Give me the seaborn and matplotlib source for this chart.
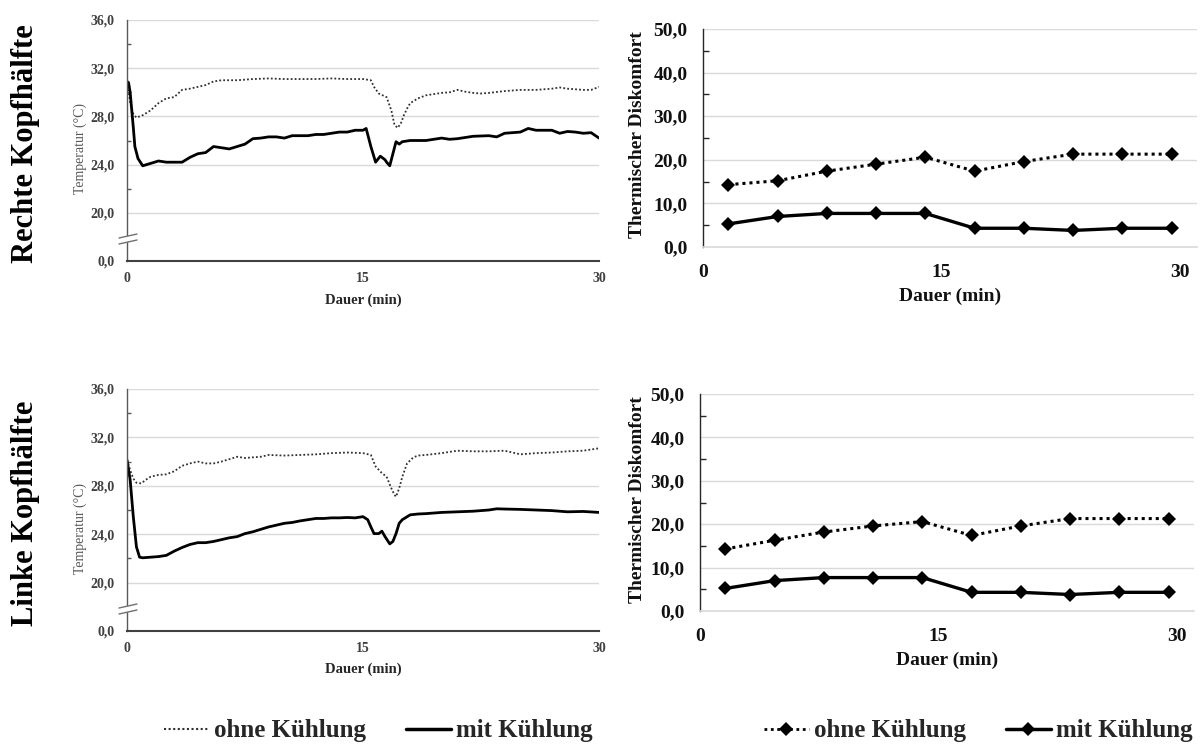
import matplotlib
matplotlib.use("Agg")
import matplotlib.pyplot as plt
from matplotlib.lines import Line2D
from matplotlib.patches import Polygon
import seaborn as sns

# ---------------- data ----------------
# Temperature time series, right half of the head (minutes, °C)
t_r_mit = [0, 0.1, 0.2, 0.4, 0.5, 0.7, 1.0, 1.5, 2.0, 2.5, 3.0, 3.5, 4.0, 4.5, 5.0, 5.5,
           6.0, 6.5, 7.0, 7.5, 8.0, 8.5, 9.0, 9.5, 10.0, 10.5, 11.0, 11.5, 12.0, 12.5,
           13.0, 13.5, 14.0, 14.5, 15.0, 15.2, 15.5, 15.8, 16.1, 16.4, 16.5, 16.7, 16.9,
           17.1, 17.3, 17.5, 18.0, 19.0, 20.0, 20.5, 21.0, 22.0, 23.0, 23.5, 24.0, 25.0,
           25.5, 26.0, 27.0, 27.5, 28.0, 28.5, 29.0, 29.5, 30.0]
temp_r_mit = [30.9, 30.8, 30.0, 27.1, 25.5, 24.5, 23.9, 24.1, 24.3, 24.2, 24.2, 24.2, 24.6,
              24.9, 25.0, 25.5, 25.4, 25.3, 25.5, 25.7, 26.15, 26.2, 26.3, 26.3, 26.2, 26.4,
              26.4, 26.4, 26.5, 26.5, 26.6, 26.7, 26.7, 26.85, 26.85, 27.0, 25.5, 24.2, 24.7,
              24.4, 24.2, 23.9, 24.9, 25.9, 25.7, 25.9, 26.0, 26.0, 26.2, 26.1, 26.15, 26.35,
              26.4, 26.3, 26.6, 26.7, 27.0, 26.85, 26.85, 26.6, 26.75, 26.7, 26.6, 26.65, 26.2]

t_r_ohne = [0, 0.2, 0.4, 0.6, 1.0, 1.5, 2.0, 2.5, 3.0, 3.5, 4.0, 4.5, 5.0, 5.5, 6.0, 7.0,
            8.0, 9.0, 10.0, 11.0, 12.0, 13.0, 14.0, 15.0, 15.5, 15.7, 16.0, 16.5, 16.8,
            17.0, 17.2, 17.4, 17.6, 17.8, 18.0, 18.5, 19.0, 19.5, 20.0, 20.5, 21.0, 21.5,
            22.0, 22.5, 23.0, 24.0, 25.0, 26.0, 27.0, 27.5, 28.0, 29.0, 29.5, 30.0]
temp_r_ohne = [30.9, 29.2, 28.2, 27.9, 28.1, 28.5, 29.1, 29.5, 29.6, 30.2, 30.3, 30.45, 30.6,
               30.9, 31.0, 31.0, 31.1, 31.15, 31.1, 31.1, 31.1, 31.15, 31.1, 31.1, 31.0,
               30.45, 29.9, 29.6, 28.5, 27.3, 27.05, 27.4, 28.1, 28.65, 29.1, 29.5, 29.75,
               29.85, 29.95, 30.0, 30.2, 30.05, 29.95, 29.9, 29.95, 30.1, 30.2, 30.2, 30.3,
               30.4, 30.3, 30.2, 30.2, 30.45]

# Temperature time series, left half of the head
t_l_mit = [0, 0.2, 0.4, 0.6, 0.8, 1.0, 1.5, 2.0, 2.5, 3.0, 3.5, 4.0, 4.5, 5.0, 5.5, 6.0,
           6.5, 7.0, 7.5, 8.0, 8.5, 9.0, 9.5, 10.0, 10.5, 11.0, 11.5, 12.0, 12.5, 13.0,
           13.5, 14.0, 14.5, 15.0, 15.3, 15.5, 15.7, 16.0, 16.2, 16.4, 16.6, 16.7, 16.9,
           17.1, 17.3, 17.5, 18.0, 18.5, 19.0, 20.0, 21.0, 22.0, 23.0, 23.5, 24.0, 25.0,
           26.0, 27.0, 28.0, 29.0, 30.0]
temp_l_mit = [30.14, 28.5, 25.45, 22.95, 22.1, 22.05, 22.1, 22.15, 22.25, 22.6, 22.9, 23.15,
              23.3, 23.3, 23.4, 23.55, 23.7, 23.8, 24.05, 24.2, 24.4, 24.6, 24.75, 24.9,
              24.97, 25.1, 25.2, 25.3, 25.3, 25.35, 25.35, 25.38, 25.35, 25.45, 25.2, 24.6,
              24.05, 24.05, 24.25, 23.8, 23.4, 23.2, 23.4, 24.05, 24.9, 25.2, 25.6, 25.67,
              25.7, 25.8, 25.85, 25.9, 26.0, 26.1, 26.08, 26.05, 26.0, 25.95, 25.85, 25.88,
              25.8]

t_l_ohne = [0, 0.2, 0.4, 0.6, 0.9, 1.2, 1.5, 2.0, 2.5, 3.0, 3.5, 4.0, 4.5, 5.0, 5.5, 6.0,
            6.5, 7.0, 7.5, 8.0, 8.5, 9.0, 10.0, 11.0, 12.0, 13.0, 14.0, 15.0, 15.5, 15.8,
            16.2, 16.5, 16.8, 17.0, 17.1, 17.3, 17.5, 17.8, 18.2, 18.5, 19.0, 20.0, 21.0,
            22.0, 23.0, 24.0, 25.0, 26.0, 27.0, 28.0, 29.0, 30.0]
temp_l_ohne = [30.14, 29.3, 28.6, 28.25, 28.2, 28.5, 28.75, 28.9, 28.95, 29.2, 29.65, 29.85,
               30.0, 29.85, 29.85, 30.0, 30.2, 30.4, 30.3, 30.35, 30.4, 30.55, 30.5, 30.55,
               30.6, 30.7, 30.75, 30.7, 30.55, 29.6, 29.05, 28.75, 27.8, 27.25, 27.1, 27.8,
               28.75, 29.85, 30.35, 30.5, 30.55, 30.7, 30.9, 30.85, 30.85, 30.9, 30.6, 30.7,
               30.75, 30.85, 30.9, 31.1]

# Thermal discomfort ratings
comfort_time = [1.6, 4.7, 7.8, 10.9, 14.0, 17.1, 20.2, 23.3, 26.4, 29.5]
disc_r_ohne = [14.3, 15.2, 17.4, 19.0, 20.6, 17.4, 19.6, 21.3, 21.3, 21.3]
disc_r_mit = [5.3, 7.0, 7.7, 7.7, 7.7, 4.3, 4.3, 3.8, 4.3, 4.3]
disc_l_ohne = [14.3, 16.3, 18.2, 19.6, 20.6, 17.4, 19.6, 21.3, 21.3, 21.3]
disc_l_mit = [5.2, 7.0, 7.7, 7.7, 7.7, 4.3, 4.3, 3.8, 4.3, 4.3]

temp_ticks = [20, 24, 28, 32, 36]
temp_zero_label = "0,0"
disc_ticks = [0, 10, 20, 30, 40, 50]
time_ticks = [0, 15, 30]

row_labels = ["Rechte Kopfhälfte", "Linke Kopfhälfte"]
series_labels = ["ohne Kühlung", "mit Kühlung"]

# ---------------- style ----------------
sns.set_theme(style="white")
plt.rcParams["font.family"] = ["Liberation Serif", "DejaVu Serif"]
plt.rcParams["axes.unicode_minus"] = False

W, H = 1200, 746
fig = plt.figure(figsize=(W / 100, H / 100), dpi=100)
fig.patch.set_facecolor("white")


def rect(l, t, r, b):
    return [l / W, 1 - b / H, (r - l) / W, (b - t) / H]


def fpt(x, y):
    return (x / W, 1 - y / H)


def comma(v):
    return f"{v:.1f}".replace(".", ",")


GRID = "#d9d9d9"
DARK = "#404040"
BASE = 16  # bottom of the broken temperature axis, shown as 0,0


def temp_axes(box, t_mit, v_mit, t_ohne, v_ohne, brk_y):
    ax = fig.add_axes(rect(*box))
    sns.lineplot(x=t_ohne, y=v_ohne, ax=ax, color="#303030", linewidth=1.3,
                 linestyle=(0, (1, 1.2)))
    sns.lineplot(x=t_mit, y=v_mit, ax=ax, color="black", linewidth=2.0)
    ax.set_xlim(0, 30)
    ax.set_ylim(BASE, 36)
    ax.set_yticks([BASE] + temp_ticks)
    ax.set_yticklabels([temp_zero_label] + [comma(v) for v in temp_ticks])
    ax.set_yticks([22, 26, 30, 34], minor=True)
    ax.set_xticks(time_ticks)
    ax.set_xticklabels([str(v) for v in time_ticks])
    ax.yaxis.grid(True, which="major", color=GRID, linewidth=1.0)
    ax.xaxis.grid(False)
    ax.set_axisbelow(True)
    for s in ["top", "right"]:
        ax.spines[s].set_visible(False)
    ax.spines["left"].set_color("#595959")
    ax.spines["left"].set_linewidth(1.0)
    ax.spines["bottom"].set_color("#404040")
    ax.spines["bottom"].set_linewidth(1.5)
    ax.tick_params(axis="y", which="major", direction="inout", length=6, width=1,
                   color="#595959", pad=6, labelsize=10, labelcolor=DARK)
    ax.tick_params(axis="y", which="minor", direction="in", length=3, width=1,
                   color="#595959", left=True)
    ax.tick_params(axis="x", length=0, pad=8, labelsize=10, labelcolor=DARK)
    for lab in ax.get_yticklabels() + ax.get_xticklabels():
        lab.set_fontweight("bold")
    ax.set_xlabel("")
    ax.set_ylabel("")
    # axis break marks
    x0, x1 = 119, 137
    poly = Polygon([fpt(x0, brk_y), fpt(x1, brk_y - 4), fpt(x1, brk_y + 2),
                    fpt(x0, brk_y + 6)], closed=True, transform=fig.transFigure,
                   facecolor="white", edgecolor="none", zorder=10)
    fig.add_artist(poly)
    for dy in (0, 6):
        p0, p1 = fpt(x0, brk_y + dy), fpt(x1, brk_y - 4 + dy)
        fig.add_artist(Line2D([p0[0], p1[0]], [p0[1], p1[1]], transform=fig.transFigure,
                              color="#707070", linewidth=1.0, zorder=11))
    return ax


def disc_axes(box, v_ohne, v_mit):
    ax = fig.add_axes(rect(*box))
    sns.lineplot(x=comfort_time, y=v_ohne, ax=ax, color="black", linewidth=2.2,
                 linestyle=(0, (1, 1.3)), marker="D", markersize=7,
                 markeredgewidth=0)
    sns.lineplot(x=comfort_time, y=v_mit, ax=ax, color="black", linewidth=2.4,
                 marker="D", markersize=7, markeredgewidth=0)
    ax.set_xlim(0, 31.1)
    ax.set_ylim(0, 50)
    ax.set_yticks(disc_ticks)
    ax.set_yticklabels([comma(v) for v in disc_ticks])
    ax.set_yticks([5, 15, 25, 35, 45], minor=True)
    ax.set_xticks(time_ticks)
    ax.set_xticklabels([str(v) for v in time_ticks])
    ax.yaxis.grid(True, which="major", color=GRID, linewidth=1.0)
    ax.xaxis.grid(False)
    ax.set_axisbelow(True)
    for s in ["top", "right"]:
        ax.spines[s].set_visible(False)
    ax.spines["left"].set_color("#262626")
    ax.spines["left"].set_linewidth(1.0)
    ax.spines["bottom"].set_color(GRID)
    ax.spines["bottom"].set_linewidth(1.2)
    ax.tick_params(axis="y", which="major", direction="inout", length=8, width=1,
                   color="#262626", pad=7, labelsize=14, labelcolor="#111111")
    ax.tick_params(axis="y", which="minor", direction="in", length=4, width=1,
                   color="#262626", left=True)
    ax.tick_params(axis="x", length=0, pad=12, labelsize=14, labelcolor="#111111")
    for lab in ax.get_yticklabels() + ax.get_xticklabels():
        lab.set_fontweight("bold")
    ax.set_xlabel("")
    ax.set_ylabel("")
    return ax


temp_axes((127, 20, 599, 261), t_r_mit, temp_r_mit, t_r_ohne, temp_r_ohne, 238)
temp_axes((127, 389, 599, 631), t_l_mit, temp_l_mit, t_l_ohne, temp_l_ohne, 608)
disc_axes((703, 29, 1197, 247), disc_r_ohne, disc_r_mit)
disc_axes((700, 394, 1194, 611), disc_l_ohne, disc_l_mit)

# axis titles and row labels
for (x, y) in [(363, 300), (363, 669)]:
    fig.text(*fpt(x, y), "Dauer (min)", ha="center", va="center", fontsize=10.5,
             fontweight="bold", color="#262626")
for (x, y) in [(950, 296), (947, 660)]:
    fig.text(*fpt(x, y), "Dauer (min)", ha="center", va="center", fontsize=14,
             fontweight="bold", color="#111111")
for (x, y) in [(80, 148), (80, 529)]:
    fig.text(*fpt(x, y), "Temperatur (°C)", ha="center", va="center", fontsize=10,
             rotation=90, color="#595959")
for (x, y) in [(637, 135), (637, 500)]:
    fig.text(*fpt(x, y), "Thermischer Diskomfort", ha="center", va="center",
             fontsize=14, fontweight="bold", rotation=90, color="#111111")
for label, (x, y) in zip(row_labels, [(26, 144), (26, 513)]):
    fig.text(*fpt(x, y), label, ha="center", va="center", fontsize=22,
             fontweight="bold", rotation=90, color="black")

# legends
legend_font = {"family": ["Liberation Serif", "DejaVu Serif"], "weight": "bold", "size": 18}
h_left = [Line2D([], [], color="#303030", linewidth=1.5, linestyle=(0, (1, 1.2))),
          Line2D([], [], color="black", linewidth=2.5)]
h_right = [Line2D([], [], color="black", linewidth=2.0, linestyle=(0, (1, 1.3)),
                  marker="D", markersize=7, markeredgewidth=0),
           Line2D([], [], color="black", linewidth=2.5, marker="D", markersize=7,
                  markeredgewidth=0)]
fig.legend(h_left, series_labels, loc="center", bbox_to_anchor=fpt(378, 731), ncol=2,
           frameon=False, prop=legend_font, handlelength=1.8, handletextpad=0.2,
           columnspacing=1.6)
fig.legend(h_right, series_labels, loc="center", bbox_to_anchor=fpt(978, 731), ncol=2,
           frameon=False, prop=legend_font, handlelength=1.8, handletextpad=0.2,
           columnspacing=1.6, numpoints=1)

fig.savefig("out.png", dpi=100, facecolor="white")
